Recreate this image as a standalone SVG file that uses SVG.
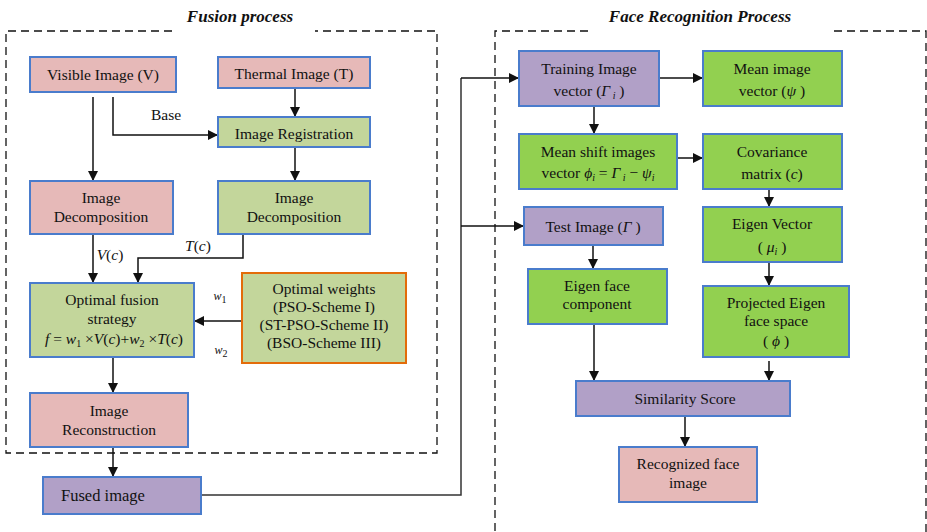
<svg xmlns="http://www.w3.org/2000/svg" width="927" height="532" viewBox="0 0 927 532" font-family="'Liberation Serif', 'Times New Roman', 'DejaVu Serif', serif">
<style>
text{font-family:"Liberation Serif","Times New Roman","DejaVu Serif",serif;font-size:15.5px;fill:#111;text-anchor:middle}
.t{font-weight:bold;font-style:italic;font-size:17px}
.i{font-style:italic}
.s{font-size:10px}
.u{font-style:normal}
.pink{fill:#e6b9b8;stroke:#4a7ccc;stroke-width:2}
.lg{fill:#c3d69b;stroke:#4a7ccc;stroke-width:2}
.bg{fill:#92d050;stroke:#4a7ccc;stroke-width:2}
.pu{fill:#b1a0c7;stroke:#4a7ccc;stroke-width:2}
.og{fill:#c3d69b;stroke:#e36c09;stroke-width:2}
.dash{fill:none;stroke:#111;stroke-width:1.3;stroke-dasharray:8,5}
.c{fill:none;stroke:#111;stroke-width:1.5}
.g{fill:none;stroke:#333;stroke-width:1.5}
</style>
<defs>
<marker id="a" viewBox="0 0 10 10" refX="10" refY="5" markerWidth="10" markerHeight="10" markerUnits="userSpaceOnUse" orient="auto"><path d="M0,0L10,5L0,10z" fill="#111"/></marker>
</defs>
<rect width="927" height="532" fill="#fff"/>
<g id="frames">
<path class="dash" d="M172,31H6V453H437V31H315"/>
<path class="dash" d="M588,31H495V532M926,532V31H832"/>
<text class="t" x="240" y="22">Fusion process</text>
<text class="t" x="700" y="22">Face Recognition Process</text>
</g>
<g id="connectors">
<path class="c" d="M93,97V181" marker-end="url(#a)"/>
<path class="c" d="M113,97V135H218" marker-end="url(#a)"/>
<path class="c" d="M295,88V117" marker-end="url(#a)"/>
<path class="c" d="M295,147V181" marker-end="url(#a)"/>
<path class="c" d="M93,234V283" marker-end="url(#a)"/>
<path class="c" d="M243,234V258H138V283" marker-end="url(#a)"/>
<path class="c" d="M242,321H194" marker-end="url(#a)"/>
<path class="c" d="M113,357V393" marker-end="url(#a)"/>
<path class="c" d="M113,447V477" marker-end="url(#a)"/>
<path class="g" d="M201,495H461V78"/>
<path class="c" d="M461,78H519" marker-end="url(#a)"/>
<path class="c" d="M461,226H524" marker-end="url(#a)"/>
<path class="c" d="M659,78H703" marker-end="url(#a)"/>
<path class="c" d="M594,106V134" marker-end="url(#a)"/>
<path class="c" d="M677,158H703" marker-end="url(#a)"/>
<path class="c" d="M769,189V207" marker-end="url(#a)"/>
<path class="c" d="M593,245V269" marker-end="url(#a)"/>
<path class="c" d="M769,262V286" marker-end="url(#a)"/>
<path class="c" d="M594,324V381" marker-end="url(#a)"/>
<path class="c" d="M769,361V381" marker-end="url(#a)"/>
<path class="c" d="M685,416V447" marker-end="url(#a)"/>
<text x="166" y="120">Base</text>
<text x="110" y="260"><tspan class="i">V</tspan>(<tspan class="i">c</tspan>)</text>
<text x="198" y="251"><tspan class="i">T</tspan>(<tspan class="i">c</tspan>)</text>
<text x="220" y="300" class="i" style="font-size:12px">w<tspan class="s u" dy="3">1</tspan></text>
<text x="221" y="354" class="i" style="font-size:12px">w<tspan class="s u" dy="3">2</tspan></text>
</g>
<g id="visible"><rect class="pink" x="30" y="57" width="146" height="35"/><text x="103" y="80">Visible Image (V)</text></g>
<g id="thermal"><rect class="pink" x="218" y="57" width="152" height="31"/><text x="294" y="79">Thermal Image (T)</text></g>
<g id="registration"><rect class="lg" x="218" y="117" width="152" height="30"/><text x="294" y="139">Image Registration</text></g>
<g id="decompV"><rect class="pink" x="30" y="181" width="143" height="53"/><text x="101" y="203">Image</text><text x="101" y="222">Decomposition</text></g>
<g id="decompT"><rect class="lg" x="218" y="181" width="152" height="53"/><text x="294" y="203">Image</text><text x="294" y="222">Decomposition</text></g>
<g id="fusion"><rect class="lg" x="30" y="283" width="164" height="74"/><text x="112" y="305">Optimal fusion</text><text x="112" y="324">strategy</text><text x="114" y="344"><tspan class="i">f</tspan> = <tspan class="i">w</tspan><tspan class="s" dy="3">1</tspan><tspan dy="-3"> ×</tspan><tspan class="i">V</tspan>(<tspan class="i">c</tspan>)+<tspan class="i">w</tspan><tspan class="s" dy="3">2</tspan><tspan dy="-3"> ×</tspan><tspan class="i">T</tspan>(<tspan class="i">c</tspan>)</text></g>
<g id="weights"><rect class="og" x="242" y="273" width="164" height="90"/><text x="324" y="294">Optimal weights</text><text x="324" y="312">(PSO-Scheme I)</text><text x="324" y="330">(ST-PSO-Scheme II)</text><text x="324" y="348">(BSO-Scheme III)</text></g>
<g id="reconstruction"><rect class="pink" x="30" y="393" width="158" height="54"/><text x="109" y="416">Image</text><text x="109" y="435">Reconstruction</text></g>
<g id="fused"><rect class="pu" x="43" y="477" width="158" height="37"/><text x="61" y="501" style="text-anchor:start;font-size:16.5px">Fused image</text></g>
<g id="training"><rect class="pu" x="519" y="51" width="140" height="55"/><text x="589" y="74">Training Image</text><text x="589" y="96">vector (<tspan class="i">Γ</tspan><tspan class="i s" dy="3"> i</tspan><tspan dy="-3"> )</tspan></text></g>
<g id="meanimg"><rect class="bg" x="703" y="51" width="139" height="55"/><text x="772" y="96">vector (<tspan class="i">ψ</tspan> )</text><text x="772" y="74">Mean image</text></g>
<g id="meanshift"><rect class="bg" x="519" y="134" width="158" height="55"/><text x="598" y="157">Mean shift images</text><text x="598" y="178">vector  <tspan class="i">ϕ</tspan><tspan class="i s" dy="3">i</tspan><tspan dy="-3"> = </tspan><tspan class="i">Γ</tspan><tspan class="i s" dy="3"> i</tspan><tspan dy="-3"> − </tspan><tspan class="i">ψ</tspan><tspan class="i s" dy="3">i</tspan></text></g>
<g id="covariance"><rect class="bg" x="703" y="134" width="139" height="55"/><text x="772" y="157">Covariance</text><text x="772" y="179">matrix (<tspan class="i">c</tspan>)</text></g>
<g id="test"><rect class="pu" x="524" y="207" width="139" height="38"/><text x="593" y="232">Test Image (<tspan class="i">Γ</tspan> )</text></g>
<g id="eigenvec"><rect class="bg" x="703" y="207" width="139" height="55"/><text x="772" y="229">Eigen Vector</text><text x="772" y="252">( <tspan class="i">μ</tspan><tspan class="i s" dy="3">i</tspan><tspan dy="-3"> )</tspan></text></g>
<g id="eigenface"><rect class="bg" x="528" y="269" width="139" height="55"/><text x="597" y="291">Eigen face</text><text x="597" y="309">component</text></g>
<g id="projected"><rect class="bg" x="703" y="286" width="146" height="71"/><text x="776" y="308">Projected Eigen</text><text x="776" y="326">face space</text><text x="776" y="346">( <tspan class="i">ϕ</tspan> )</text></g>
<g id="similarity"><rect class="pu" x="576" y="381" width="214" height="35"/><text x="685" y="404">Similarity Score</text></g>
<g id="recognized"><rect class="pink" x="619" y="447" width="138" height="55"/><text x="688" y="469">Recognized face</text><text x="688" y="488">image</text></g>
</svg>
